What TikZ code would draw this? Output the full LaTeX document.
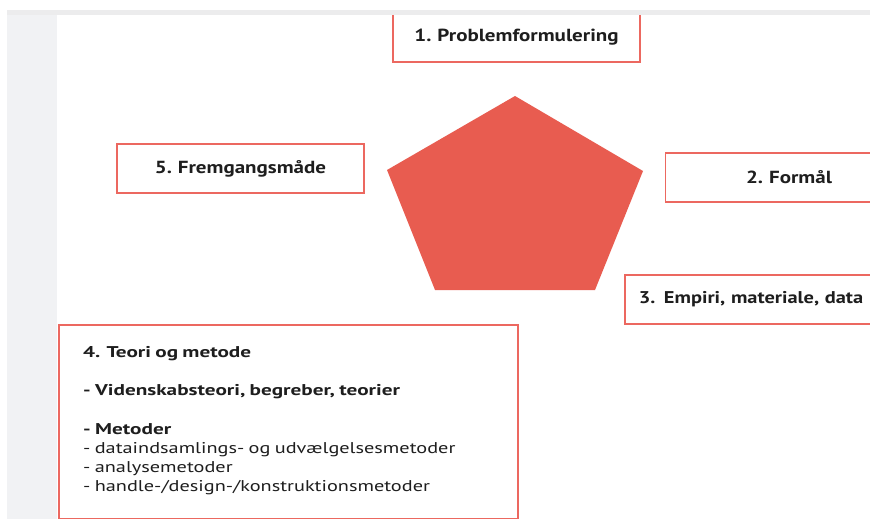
\documentclass[tikz,border=0pt]{standalone}
\usepackage{fontspec}
\setmainfont{PT Sans}[FakeStretch=1.2, WordSpace=0.8]
\newfontfamily\listfont{PT Sans}[FakeStretch=1.3, WordSpace=0.8, BoldFeatures={FakeStretch=1.36}]
\usepackage{tikz}
\usetikzlibrary{positioning}
\definecolor{boxred}{RGB}{236,104,96}
\definecolor{pentared}{RGB}{232,92,80}
\definecolor{sidegray}{RGB}{241,242,244}
\definecolor{bandgray}{RGB}{236,236,237}
\definecolor{inkgray}{RGB}{30,30,30}

\begin{document}
\begin{tikzpicture}[x=1pt, y=-1pt,
    box/.style={rectangle, draw=boxred, line width=1.8pt, fill=white,
                minimum width=247pt, minimum height=49pt, inner sep=0pt,
                text=inkgray, font=\fontsize{17.5}{20}\selectfont\bfseries},
    listtext/.style={align=left, inner sep=0pt, text=inkgray,
                font=\listfont\fontsize{15.6}{19.2}\selectfont}
]
\clip (0,0) rectangle (870,519);
\fill[white] (0,0) rectangle (870,519);

% Side strip
\fill[sidegray] (7,15) rectangle (57,519);

% Pentagon
\fill[pentared] (515,96) -- (643,171) -- (595,290) -- (435,290) -- (387,170) -- cycle;

% Boxes round the pentagon
\node[box] (problem) at (516.5,37.5) {1. Problemformulering};
\node[box] (purpose) at (789,177.5) {2. Formål};
\node[box, anchor=west, text width=300pt, align=left, inner xsep=14pt,
      font=\fontsize{17}{20}\selectfont\bfseries] (empiri) at (624,299.5) {3. Empiri, materiale, data};
\node[box] (approach) at (240.5,168.5) {5. Fremgangsmåde};

% Theory and method
\node[box, anchor=north west, minimum width=459pt, minimum height=194pt] (theory) at (58,324) {};
\node[listtext, anchor=north west] (theorytext) at (83,346) {%
    \textbf{4. Teori og metode}\\[19.2pt]
    \textbf{- Videnskabsteori, begreber, teorier}\\[19.2pt]
    \textbf{- Metoder}\\
    - dataindsamlings- og udvælgelsesmetoder\\
    - analysemetoder\\
    - handle-/design-/konstruktionsmetoder};

% Top band
\fill[white] (0,0) rectangle (870,10);
\fill[bandgray] (7,10) rectangle (870,15);

\end{tikzpicture}
\end{document}
